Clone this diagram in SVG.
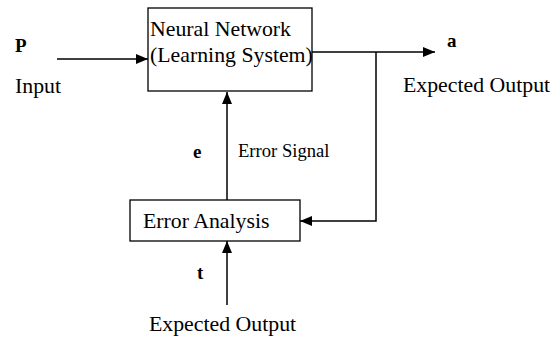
<svg xmlns="http://www.w3.org/2000/svg" width="557" height="337" viewBox="0 0 557 337">
<style>
text{font-family:"Liberation Serif","Times New Roman",serif;fill:#000}
.t{font-size:21.8px}
.s{font-size:18.6px}
.b{font-size:19px;font-weight:bold}
.box{fill:#fff;stroke:#000;stroke-width:1.3}
.ln{fill:none;stroke:#000;stroke-width:1.5}
</style>
<defs>
<marker id="ah" markerWidth="12" markerHeight="10" refX="12" refY="5" orient="auto" markerUnits="userSpaceOnUse">
<path d="M0,0 L12,5 L0,10 Z" fill="#000"/>
</marker>
</defs>
<g id="connectors">
<line class="ln" x1="57" y1="59" x2="148" y2="59" marker-end="url(#ah)"/>
<line class="ln" x1="312" y1="52" x2="435" y2="52" marker-end="url(#ah)"/>
<polyline class="ln" points="376,52 376,221 300,221" marker-end="url(#ah)"/>
<line class="ln" x1="227" y1="200" x2="227" y2="92" marker-end="url(#ah)"/>
<line class="ln" x1="227" y1="305" x2="227" y2="241" marker-end="url(#ah)"/>
</g>
<g id="nn">
<rect class="box" x="148" y="8" width="164" height="83"/>
<text class="t" x="150" y="36">Neural Network</text>
<text class="t" x="150" y="62">(Learning System)</text>
</g>
<g id="ea">
<rect class="box" x="130" y="200" width="170" height="41"/>
<text class="t" x="143" y="228">Error Analysis</text>
</g>
<g id="labels">
<text class="b" x="15" y="52">P</text>
<text class="t" x="15" y="93">Input</text>
<text class="b" x="447" y="47">a</text>
<text class="t" x="403" y="92">Expected Output</text>
<text class="b" x="193" y="158">e</text>
<text class="s" x="238" y="157">Error Signal</text>
<text class="b" x="197" y="279">t</text>
<text class="t" x="149" y="331">Expected Output</text>
</g>
</svg>
